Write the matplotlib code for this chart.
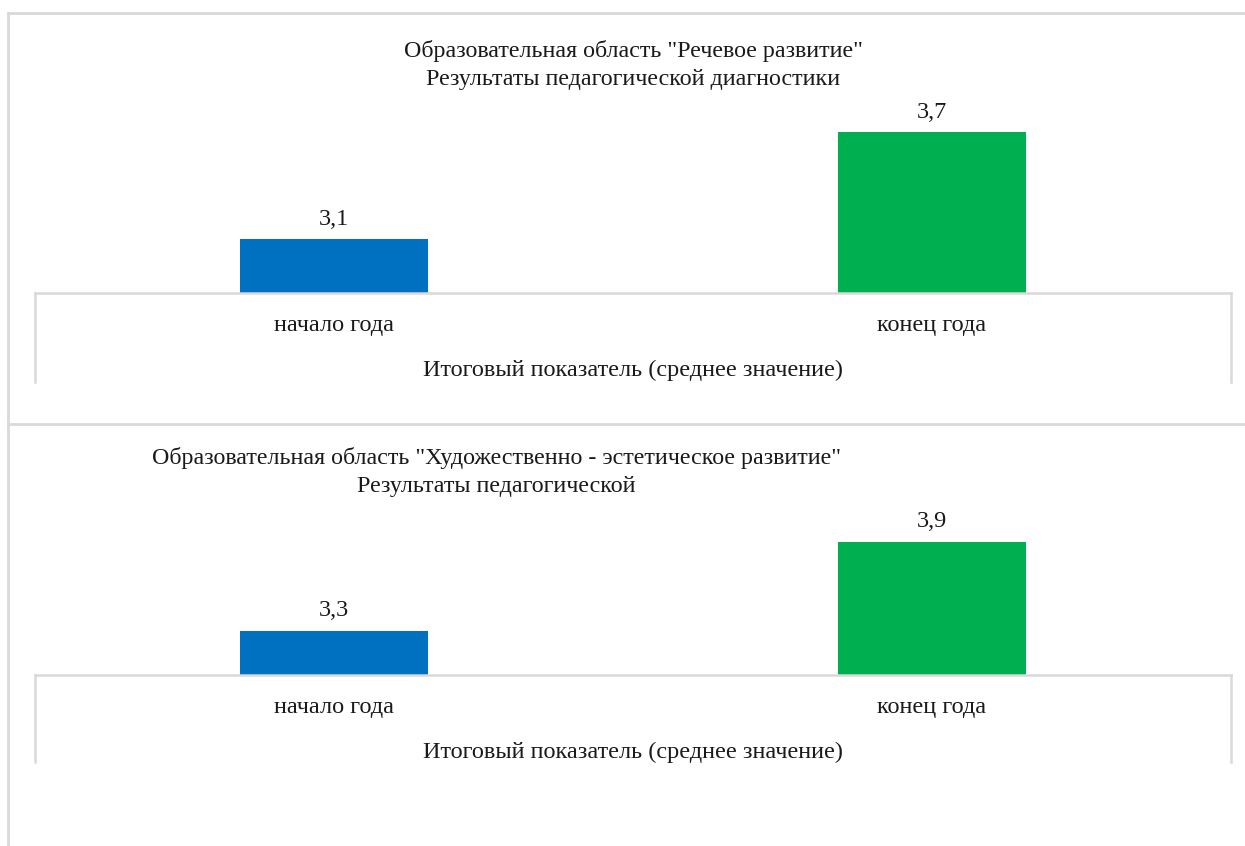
import matplotlib.pyplot as plt
from matplotlib.lines import Line2D

plt.rcParams['font.family'] = ['Liberation Serif', 'DejaVu Serif']

# data
categories = ["начало года", "конец года"]
group_label = "Итоговый показатель (среднее значение)"
speech_values = [3.1, 3.7]
art_values = [3.3, 3.9]
speech_title = 'Образовательная область "Речевое развитие"\nРезультаты педагогической диагностики'
art_title = 'Образовательная область "Художественно - эстетическое развитие"\nРезультаты педагогической'
bar_colors = ["#0070C0", "#00B050"]

W, H = 1245, 846
fig = plt.figure(figsize=(W / 100, H / 100), dpi=100)
grid_color = "#d9d9d9"
text_color = "#1a1a1a"


def px_axes(left, top, right, bottom):
    # pixel box -> figure fraction
    return fig.add_axes([left / W, 1 - bottom / H, (right - left) / W, (bottom - top) / H])


def draw_panel(ax, values, ylim, title, title_x, title_y, drop):
    x = range(len(values))
    bars = ax.bar(x, [v - ylim[0] for v in values], bottom=ylim[0], width=0.313,
                  color=bar_colors)
    ax.bar_label(bars, labels=[f"{v:.1f}".replace(".", ",") for v in values],
                 padding=7, fontsize=17.5, color=text_color)
    ax.set_xlim(-0.5, len(values) - 0.5)
    ax.set_ylim(*ylim)
    ax.set_xticks(list(x))
    ax.set_xticklabels(categories, fontsize=17.5, color=text_color)
    ax.tick_params(axis="x", length=0, pad=16)
    ax.set_yticks([])
    ax.set_xlabel(group_label, fontsize=17.5, labelpad=17, color=text_color)
    for side in ["top", "left", "right"]:
        ax.spines[side].set_visible(False)
    ax.spines["bottom"].set_color(grid_color)
    ax.spines["bottom"].set_linewidth(1.8)
    for xe in [0, 1]:
        ax.plot([xe, xe], [0, -drop], transform=ax.transAxes, color=grid_color,
                lw=1.8, clip_on=False)
    ax.text(title_x, title_y, title, transform=ax.transAxes, ha="center",
            va="bottom", fontsize=17.3, linespacing=1.45, color=text_color)


ax1 = px_axes(35, 79, 1231, 293)
draw_panel(ax1, speech_values, (2.8, 4.0), speech_title, 0.5, 0.95, 89 / 214)

ax2 = px_axes(35, 527, 1231, 675)
draw_panel(ax2, art_values, (3.0, 4.0), art_title, (496 - 35) / 1196, 1.2, 87 / 148)

# outer frames
for xs, ys in [([8, W], [13, 13]), ([8, W], [424, 424]), ([8, 8], [13, H])]:
    fig.add_artist(Line2D([v / W for v in xs], [1 - v / H for v in ys],
                          color=grid_color, lw=2))

plt.savefig("out.png", dpi=100)
